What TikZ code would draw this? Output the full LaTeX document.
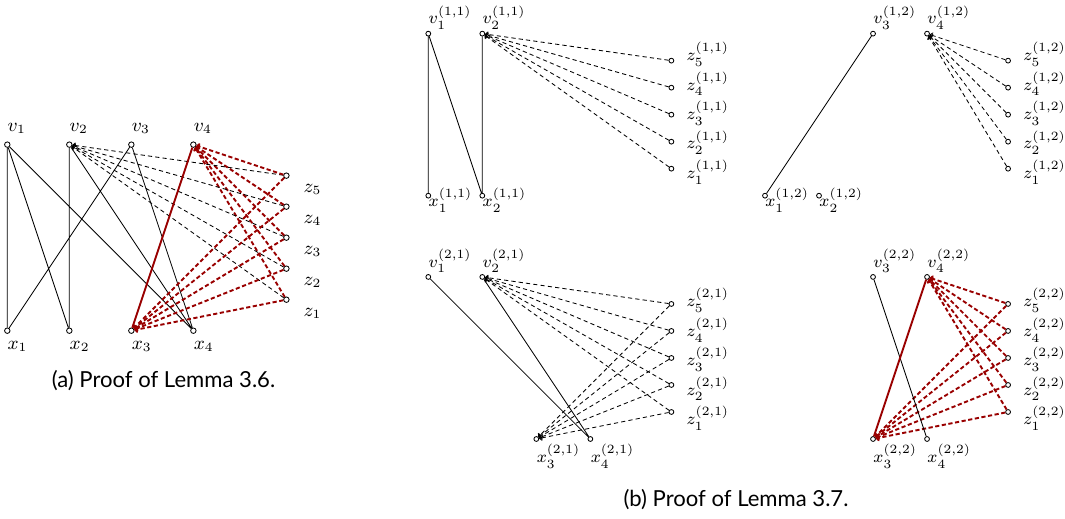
\documentclass[tikz,border=0pt]{standalone}
\usepackage{fontspec}
\usepackage{xcolor}
\usepackage{tikz}
\usetikzlibrary{positioning,arrows.meta}
\newfontfamily\capfont{Lato}
\definecolor{lemmared}{RGB}{153,0,0}

\begin{document}
\begin{tikzpicture}[
    x=0.016714cm, y=-0.016714cm,
    vtx/.style={circle, draw, fill=white, inner sep=0pt, minimum size=2.6pt, line width=0.4pt},
    vtxb/.style={vtx, minimum size=2.3pt},
    lbl/.style={inner sep=0pt, font=\fontsize{9}{10}\selectfont},
    lblb/.style={inner sep=0pt, font=\fontsize{8}{9}\selectfont},
    edge/.style={line width=0.4pt},
    hledge/.style={lemmared, line width=0.9pt},
    dashedge/.style={-{To[length=1.4pt, width=2.8pt]}, dash pattern=on 2pt off 1.5pt, line width=0.4pt},
    hldashedge/.style={-{To[length=1.6pt, width=3.2pt]}, lemmared, dash pattern=on 2pt off 1.2pt, line width=0.9pt},
    caption/.style={inner sep=0pt, font=\capfont\fontsize{10.5}{12}\selectfont}
]
\useasboundingbox (0,0) rectangle (1065,519);

% (a) Lemma 3.6
\begin{scope}[shift={(7.3,330.7)}, x=0.51813cm, y=0.51813cm]
\foreach \i/\px in {1/0, 2/2, 3/4, 4/6} {
  \node[vtx] (av\i) at (\px,6) {};
  \node[vtx] (ax\i) at (\px,0) {};
  \node[lbl, above right=6.4pt and 0pt of av\i.center, anchor=base west] (lav\i) {$v_\i$};
  \node[lbl, below right=8.8pt and 0pt of ax\i.center, anchor=base west] (lax\i) {$x_\i$};
}
\foreach \j in {1,...,5} {
  \node[vtx] (az\j) at (9,\j) {};
  \node[lbl, below right=8.1pt and 8pt of az\j.center, anchor=base west] (laz\j) {$z_\j$};
}
\draw[edge] (av1) -- (ax1) (av1) -- (ax2) (av1) -- (ax4)
            (av2) -- (ax2) (av2) -- (ax4) (av3) -- (ax1) (av3) -- (ax4);
\foreach \j in {1,...,5} {
  \draw[dashedge] (az\j) -- (av2);
  \draw[hldashedge] (az\j) -- (av4);
  \draw[hldashedge] (az\j) -- (ax3);
}
\draw[hledge] (av4) -- (ax3);
\end{scope}
\node[caption, anchor=base] (capa) at (163.5,388) {(a) Proof of Lemma 3.6.};

% (b) Lemma 3.7, part (1,1)
\begin{scope}[shift={(428.3,195.7)}, x=0.45128cm, y=0.45128cm]
\node[vtxb] (p11v1) at (0,6) {};
\node[vtxb] (p11v2) at (2,6) {};
\node[vtxb] (p11x1) at (0,0) {};
\node[vtxb] (p11x2) at (2,0) {};
\node[lblb, above right=4.6pt and 0pt of p11v1.center, anchor=base west] (lp11v1) {$v_1^{(1,1)}$};
\node[lblb, above right=4.6pt and 0pt of p11v2.center, anchor=base west] (lp11v2) {$v_2^{(1,1)}$};
\node[lblb, below right=5.2pt and 0pt of p11x1.center, anchor=base west] (lp11x1) {$x_1^{(1,1)}$};
\node[lblb, below right=5.2pt and 0pt of p11x2.center, anchor=base west] (lp11x2) {$x_2^{(1,1)}$};
\foreach \j in {1,...,5} {
  \node[vtxb] (p11z\j) at (9,\j) {};
  \node[lblb, anchor=base west] (lp11z\j) at (9.55,{5-(5-\j)*1.09}) {$z_\j^{(1,1)}$};
  \draw[dashedge] (p11z\j) -- (p11v2);
}
\draw[edge] (p11v1) -- (p11x1) (p11v1) -- (p11x2) (p11v2) -- (p11x2);
\end{scope}

% (b) part (1,2)
\begin{scope}[shift={(765,195.7)}, x=0.45128cm, y=0.45128cm]
\node[vtxb] (p12v3) at (4,6) {};
\node[vtxb] (p12v4) at (6,6) {};
\node[vtxb] (p12x1) at (0,0) {};
\node[vtxb] (p12x2) at (2,0) {};
\node[lblb, above right=4.6pt and 0pt of p12v3.center, anchor=base west] (lp12v3) {$v_3^{(1,2)}$};
\node[lblb, above right=4.6pt and 0pt of p12v4.center, anchor=base west] (lp12v4) {$v_4^{(1,2)}$};
\node[lblb, below right=5.2pt and 0pt of p12x1.center, anchor=base west] (lp12x1) {$x_1^{(1,2)}$};
\node[lblb, below right=5.2pt and 0pt of p12x2.center, anchor=base west] (lp12x2) {$x_2^{(1,2)}$};
\foreach \j in {1,...,5} {
  \node[vtxb] (p12z\j) at (9,\j) {};
  \node[lblb, anchor=base west] (lp12z\j) at (9.55,{5-(5-\j)*1.09}) {$z_\j^{(1,2)}$};
  \draw[dashedge] (p12z\j) -- (p12v4);
}
\draw[edge] (p12v3) -- (p12x1);
\end{scope}

% (b) part (2,1)
\begin{scope}[shift={(428.3,439)}, x=0.45128cm, y=0.45128cm]
\node[vtxb] (p21v1) at (0,6) {};
\node[vtxb] (p21v2) at (2,6) {};
\node[vtxb] (p21x3) at (4,0) {};
\node[vtxb] (p21x4) at (6,0) {};
\node[lblb, above right=4.6pt and 0pt of p21v1.center, anchor=base west] (lp21v1) {$v_1^{(2,1)}$};
\node[lblb, above right=4.6pt and 0pt of p21v2.center, anchor=base west] (lp21v2) {$v_2^{(2,1)}$};
\node[lblb, below right=11.2pt and 0pt of p21x3.center, anchor=base west] (lp21x3) {$x_3^{(2,1)}$};
\node[lblb, below right=11.2pt and 0pt of p21x4.center, anchor=base west] (lp21x4) {$x_4^{(2,1)}$};
\foreach \j in {1,...,5} {
  \node[vtxb] (p21z\j) at (9,\j) {};
  \node[lblb, anchor=base west] (lp21z\j) at (9.55,{4.89-(5-\j)*1.09}) {$z_\j^{(2,1)}$};
  \draw[dashedge] (p21z\j) -- (p21v2);
  \draw[dashedge] (p21z\j) -- (p21x3);
}
\draw[edge] (p21v1) -- (p21x4) (p21v2) -- (p21x4);
\end{scope}

% (b) part (2,2)
\begin{scope}[shift={(765,439)}, x=0.45128cm, y=0.45128cm]
\node[vtxb] (p22v3) at (4,6) {};
\node[vtxb] (p22v4) at (6,6) {};
\node[vtxb] (p22x3) at (4,0) {};
\node[vtxb] (p22x4) at (6,0) {};
\node[lblb, above right=4.6pt and 0pt of p22v3.center, anchor=base west] (lp22v3) {$v_3^{(2,2)}$};
\node[lblb, above right=4.6pt and 0pt of p22v4.center, anchor=base west] (lp22v4) {$v_4^{(2,2)}$};
\node[lblb, below right=11.2pt and 0pt of p22x3.center, anchor=base west] (lp22x3) {$x_3^{(2,2)}$};
\node[lblb, below right=11.2pt and 0pt of p22x4.center, anchor=base west] (lp22x4) {$x_4^{(2,2)}$};
\foreach \j in {1,...,5} {
  \node[vtxb] (p22z\j) at (9,\j) {};
  \node[lblb, anchor=base west] (lp22z\j) at (9.55,{4.89-(5-\j)*1.09}) {$z_\j^{(2,2)}$};
  \draw[hldashedge] (p22z\j) -- (p22v4);
  \draw[hldashedge] (p22z\j) -- (p22x3);
}
\draw[edge] (p22v3) -- (p22x4);
\draw[hledge] (p22v4) -- (p22x3);
\end{scope}
\node[caption, anchor=base] (capb) at (736,506.7) {(b) Proof of Lemma 3.7.};

\end{tikzpicture}
\end{document}
